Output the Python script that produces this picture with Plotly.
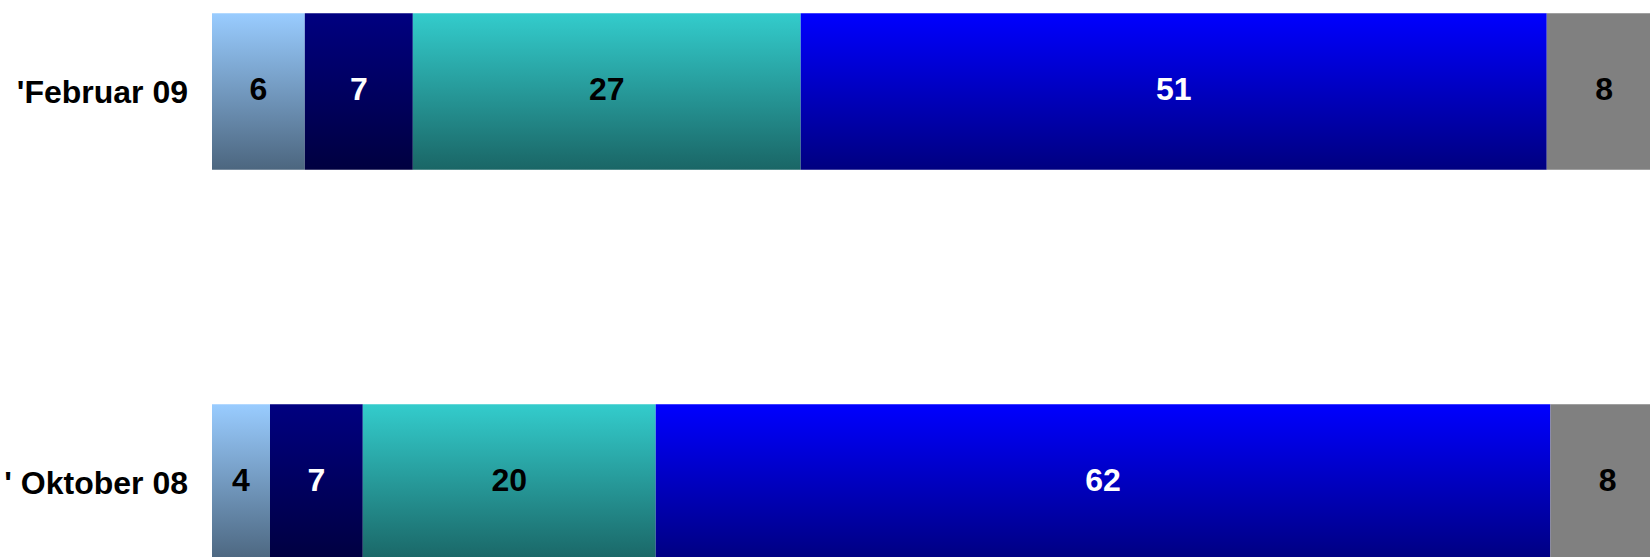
"""Stacked horizontal bars comparing two survey waves (Oktober 08 vs Februar 09)."""

import numpy as np
import plotly.graph_objects as go

# rows from bottom to top
periods = ["' Oktober 08", "'Februar 09"]

# bar lengths (percent), the printed labels are rounded
shares_okt = [4.0, 6.4, 20.2, 61.7, 7.9]
shares_feb = [6.4, 7.45, 26.75, 51.45, 7.9]

# labels as printed on the segments
labels_okt = ["4", "7", "20", "62", "8"]
labels_feb = ["6", "7", "27", "51", "8"]

# segment colours: (bottom of gradient, top of gradient)
segment_colors = [
    ("#4c667f", "#99ccff"),
    ("#000040", "#000080"),
    ("#1a6666", "#33cccc"),
    ("#000080", "#0000ff"),
    ("#808080", "#808080"),
]
label_colors = ["black", "white", "black", "white", "black"]

BAR_HALF = 0.2  # half of the bar thickness in category units
FONT = "Liberation Sans, Arial, sans-serif"


def add_row(fig, row, shares, labels):
    """Draw one stacked bar as gradient-filled segments plus its labels."""

    ends = np.cumsum(shares)
    starts = ends - np.array(shares)

    for i in range(len(shares)):
        x0, x1 = starts[i], ends[i]
        y0, y1 = row - BAR_HALF, row + BAR_HALF
        dark, light = segment_colors[i]
        fig.add_trace(
            go.Scatter(
                x=[x0, x1, x1, x0, x0],
                y=[y0, y0, y1, y1, y0],
                mode="lines",
                fill="toself",
                line=dict(width=0),
                fillgradient=dict(
                    type="vertical", colorscale=[[0, dark], [1, light]]
                ),
                hoverinfo="skip",
                showlegend=False,
            )
        )

    # segment labels in the middle of each segment
    fig.add_trace(
        go.Scatter(
            x=(starts + ends) / 2,
            y=[row] * len(shares),
            mode="text",
            text=labels,
            textposition="middle center",
            textfont=dict(family=FONT, size=32, color=label_colors, weight="bold"),
            hoverinfo="skip",
            showlegend=False,
        )
    )


fig = go.Figure()
add_row(fig, 0, shares_okt, labels_okt)
add_row(fig, 1, shares_feb, labels_feb)

fig.update_layout(
    width=1650,
    height=557,
    margin=dict(l=212, r=0, t=0, b=0),
    plot_bgcolor="white",
    paper_bgcolor="white",
    showlegend=False,
    xaxis=dict(range=[0, 99.17], visible=False, fixedrange=True),
    yaxis=dict(
        range=[-0.1905, 1.234],
        tickvals=[0, 1],
        ticktext=periods,
        showgrid=False,
        zeroline=False,
        showline=False,
        ticks="",
        ticklabelstandoff=23,
        automargin=False,
        tickfont=dict(family=FONT, size=32, color="black", weight="bold"),
        fixedrange=True,
    ),
)

# drop the default page margin so the figure sits at the window's top-left corner
fig.write_html(
    "out.html",
    config={"displayModeBar": False},
    post_script="document.body.style.margin='0';document.body.style.overflow='hidden';",
)
